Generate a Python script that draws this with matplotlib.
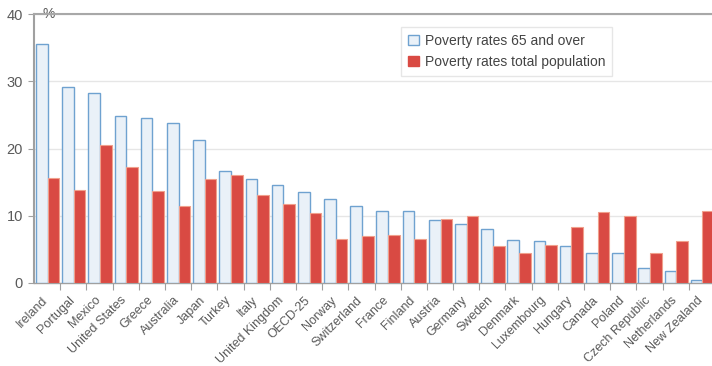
import matplotlib
matplotlib.use("Agg")
import matplotlib.pyplot as plt
import numpy as np
from matplotlib.patches import Patch
from matplotlib.transforms import ScaledTranslation

countries = ["Ireland", "Portugal", "Mexico", "United States", "Greece", "Australia",
             "Japan", "Turkey", "Italy", "United Kingdom", "OECD-25", "Norway",
             "Switzerland", "France", "Finland", "Austria", "Germany", "Sweden",
             "Denmark", "Luxembourg", "Hungary", "Canada", "Poland", "Czech Republic",
             "Netherlands", "New Zealand"]
rate_65 = [35.5, 29.2, 28.3, 24.8, 24.6, 23.8, 21.3, 16.6, 15.5, 14.6, 13.5, 12.5,
           11.4, 10.7, 10.7, 9.4, 8.7, 8.0, 6.4, 6.3, 5.5, 4.5, 4.5, 2.3, 1.8, 0.5]
rate_total = [15.6, 13.9, 20.5, 17.2, 13.7, 11.4, 15.4, 16.1, 13.1, 11.7, 10.4, 6.6,
              7.0, 7.2, 6.6, 9.5, 10.0, 5.5, 4.5, 5.7, 8.3, 10.6, 10.0, 4.5, 6.3, 10.7]
y_ticks = [0, 10, 20, 30, 40]

plt.rcParams['font.family'] = ['Liberation Sans', 'DejaVu Sans']
txt = '#5a5a5a'
blue_fill = '#EAF1F8'
blue_edge = '#6FA2D0'
red_fill = '#D94A43'
red_edge = '#F0A08C'

fig = plt.figure(figsize=(7.12, 3.66), dpi=100)
ax = fig.add_axes([34/712, (366-283)/366, (715-34)/712, (283-14)/366])

x = np.arange(len(countries))
w = 0.445
ax.bar(x - w/2, rate_65, width=w, color=blue_fill, edgecolor=blue_edge, linewidth=1.0, zorder=3,
       label="Poverty rates 65 and over")
ax.bar(x + w/2, rate_total, width=w, color=red_fill, edgecolor=red_edge, linewidth=0.8, zorder=3,
       label="Poverty rates total population")

ax.set_xlim(-0.52, len(countries) - 0.52)
ax.set_ylim(0, 40)
ax.set_yticks(y_ticks)
ax.yaxis.grid(True, color='#E6E6E6', linewidth=1.0, zorder=0)
ax.axhline(40, color='#A8A8A8', linewidth=1.5, zorder=4, clip_on=False)

for s in ['top', 'right']:
    ax.spines[s].set_visible(False)
ax.spines['left'].set_color('#A0A0A0')
ax.spines['left'].set_linewidth(1.5)
ax.spines['bottom'].set_color('#A0A0A0')
ax.spines['bottom'].set_linewidth(1.0)

ax.tick_params(axis='y', length=4, color='#A0A0A0', labelcolor=txt, labelsize=10.5, pad=4)
# boundary ticks
ax.set_xticks(x + 0.48, minor=False)
ax.set_xticklabels([])
ax.tick_params(axis='x', length=5, color='#A0A0A0')

offset = ScaledTranslation(-4/72, -8/72, fig.dpi_scale_trans)
for i, c in enumerate(countries):
    t = ax.text(i, 0, c, rotation=45, ha='right', va='top', rotation_mode='anchor',
                fontsize=9, color=txt, transform=ax.get_xaxis_transform())
    t.set_transform(ax.get_xaxis_transform() + offset)

ax.text(0.012, 40, '%', transform=ax.get_yaxis_transform(), fontsize=10, color=txt,
        va='center', ha='left')

handles = [Patch(facecolor=blue_fill, edgecolor=blue_edge, label="Poverty rates 65 and over"),
           Patch(facecolor=red_fill, edgecolor=red_fill, label="Poverty rates total population")]
leg = fig.legend(handles=handles, loc='upper left', bbox_to_anchor=(394/712, 1 - 20/366),
                 fontsize=10, frameon=True, fancybox=False, edgecolor='#E0E0E0',
                 handlelength=0.8, handleheight=0.8, handletextpad=0.4, borderpad=0.5,
                 labelspacing=0.5)
for t in leg.get_texts():
    t.set_color('#444444')

fig.savefig('out.png', dpi=100)
